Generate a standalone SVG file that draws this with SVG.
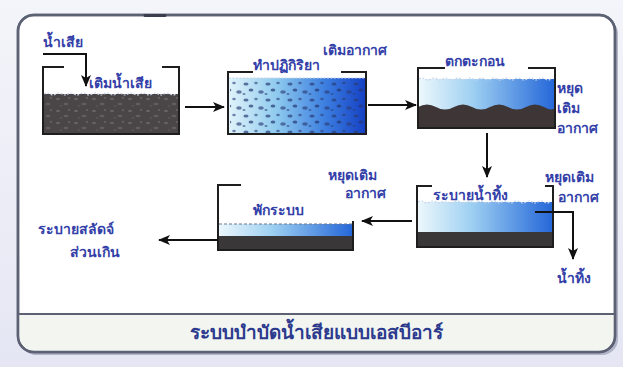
<svg xmlns="http://www.w3.org/2000/svg" width="623" height="367" viewBox="0 0 623 367">
  <defs>
    <style>
      .wall { fill: none; stroke: #1e1e1e; stroke-width: 2; stroke-linecap: square; }
      .conn { fill: none; stroke: #111; stroke-width: 2; }
      .lbl { font-family: "Noto Sans", "DejaVu Sans", sans-serif; font-size: 14px; font-weight: bold; fill: #3340a8; }
      .title { font-family: "Noto Sans", "DejaVu Sans", sans-serif; font-size: 19px; font-weight: bold; fill: #2c3a8e; }
      .surf { fill: none; stroke: #c8d4e8; stroke-width: 1.2; stroke-dasharray: 2 1.5; }
    </style>
    <linearGradient id="bgGrad" x1="0" y1="0" x2="0" y2="1">
      <stop offset="0" stop-color="#f4f5fa"/>
      <stop offset="1" stop-color="#e4e6f3"/>
    </linearGradient>
    <linearGradient id="waterA" x1="0" y1="0" x2="1" y2="0">
      <stop offset="0" stop-color="#e2f4fb"/>
      <stop offset="0.35" stop-color="#8fcaee"/>
      <stop offset="0.7" stop-color="#3d7fe0"/>
      <stop offset="1" stop-color="#1440c4"/>
    </linearGradient>
    <linearGradient id="waterB" x1="0" y1="0" x2="1" y2="0">
      <stop offset="0" stop-color="#eef8fc"/>
      <stop offset="0.4" stop-color="#9ed0f2"/>
      <stop offset="1" stop-color="#2466d8"/>
    </linearGradient>
    <pattern id="sludge" width="18" height="12" patternUnits="userSpaceOnUse">
      <rect width="18" height="12" fill="#4a4547"/>
      <ellipse cx="4" cy="3" rx="2" ry="1" fill="#6c6668"/>
      <ellipse cx="12" cy="8" rx="2.5" ry="1.2" fill="#625c5e"/>
      <ellipse cx="15" cy="2" rx="1.2" ry="0.8" fill="#716b6d"/>
      <ellipse cx="7" cy="10" rx="1.5" ry="0.8" fill="#5e585a"/>
    </pattern>
    <pattern id="bubbles" width="22" height="16" patternUnits="userSpaceOnUse">
      <ellipse cx="4" cy="4" rx="2.6" ry="1.6" fill="#2a3e78" fill-opacity="0.7"/>
      <ellipse cx="14" cy="3" rx="1.8" ry="1.2" fill="#2a3e78" fill-opacity="0.6"/>
      <ellipse cx="9" cy="10" rx="2.4" ry="1.5" fill="#233670" fill-opacity="0.7"/>
      <ellipse cx="19" cy="12" rx="2.8" ry="1.7" fill="#2a3e78" fill-opacity="0.65"/>
      <ellipse cx="2" cy="14" rx="1.5" ry="1" fill="#2a3e78" fill-opacity="0.6"/>
    </pattern>
    <marker id="arrow" markerWidth="12" markerHeight="10" refX="11" refY="5" orient="auto" markerUnits="userSpaceOnUse">
      <path d="M0,0 L12,5 L0,10 L3,5 Z" fill="#111"/>
    </marker>
  </defs>

  <!-- page background -->
  <rect width="623" height="367" fill="url(#bgGrad)"/>

  <!-- frame with shadow and caption strip -->
  <rect x="20" y="18" width="598" height="337" rx="16" fill="#8d92a8" opacity="0.6"/>
  <rect x="18" y="15" width="597" height="337" rx="16" fill="#ffffff" stroke="#5c6274" stroke-width="2.5"/>
  <path d="M19.3,314 H613.7 V336 A15,15 0 0 1 598.7,351 H34.3 A15,15 0 0 1 19.3,336 Z" fill="#f2f5f0"/>
  <line x1="19" y1="314" x2="614" y2="314" stroke="#5c6274" stroke-width="2"/>
  <rect x="18" y="15" width="597" height="337" rx="16" fill="none" stroke="#5c6274" stroke-width="2.5"/>
  <line x1="145" y1="15.5" x2="165" y2="15.5" stroke="#3a3e4c" stroke-width="3" stroke-linecap="round"/>
  <text class="title" x="316" y="339" text-anchor="middle">ระบบบำบัดน้ำเสียแบบเอสบีอาร์</text>

  <!-- stage 1: fill -->
  <g id="tank-fill">
    <rect x="43" y="94" width="136" height="40" fill="url(#sludge)"/>
    <path class="surf" d="M44,94 q3,-2 6,0 t6,0 t6,0 t6,0 t6,0 t6,0 t6,0 t6,0 t6,0 t6,0 t6,0 t6,0 t6,0 t6,0 t6,0 t6,0 t6,0 t6,0 t6,0 t6,0 t6,0 t6,0"/>
    <path class="wall" d="M63,67 H43 V134 H179 V67 H163"/>
    <text class="lbl" x="43" y="47">น้ำเสีย</text>
    <text class="lbl" x="89" y="88">เติมน้ำเสีย</text>
  </g>

  <!-- stage 2: react -->
  <g id="tank-react">
    <rect x="228" y="78" width="138" height="56" fill="url(#waterA)"/>
    <rect x="230" y="80" width="134" height="53" fill="url(#bubbles)"/>
    <path class="surf" d="M229,78 H365" stroke="#a8bcd8"/>
    <path class="wall" d="M252,72 H228 V134 H366 V72 H342"/>
    <text class="lbl" x="253" y="70">ทำปฏิกิริยา</text>
    <text class="lbl" x="323" y="55">เติมอากาศ</text>
  </g>

  <!-- stage 3: settle -->
  <g id="tank-settle">
    <rect x="418" y="79" width="137" height="32" fill="url(#waterB)"/>
    <path d="M418,107 q9,-5 18,0 t18,0 t18,0 t18,0 t18,0 t18,0 t18,0 t11,0 V128 H418 Z" fill="#3d3536"/>
    <path class="surf" d="M419,79 q3,-2 6,0 t6,0 t6,0 t6,0 t6,0 t6,0 t6,0 t6,0 t6,0 t6,0 t6,0 t6,0 t6,0 t6,0 t6,0 t6,0 t6,0 t6,0 t6,0 t6,0 t6,0 t6,0" stroke="#7d8aa8"/>
    <path class="wall" d="M444,68 H418 V128 H555 V68 H529"/>
    <text class="lbl" x="445" y="66">ตกตะกอน</text>
    <text class="lbl" x="557" y="93">หยุด</text>
    <text class="lbl" x="557" y="113">เติม</text>
    <text class="lbl" x="557" y="133">อากาศ</text>
  </g>

  <!-- stage 4: draw -->
  <g id="tank-draw">
    <rect x="417" y="202" width="136" height="30" fill="url(#waterB)"/>
    <rect x="417" y="232" width="136" height="15" fill="#3a3738"/>
    <path class="surf" d="M418,202 q3,-2 6,0 t6,0 t6,0 t6,0 t6,0 t6,0 t6,0 t6,0 t6,0 t6,0 t6,0 t6,0 t6,0 t6,0 t6,0 t6,0 t6,0 t6,0 t6,0 t6,0 t6,0 t6,0" stroke="#7d8aa8"/>
    <path class="wall" d="M431,186 H417 V247 H553 V186 H546"/>
    <text class="lbl" x="433" y="200">ระบายน้ำทิ้ง</text>
    <text class="lbl" x="545" y="182">หยุดเติม</text>
    <text class="lbl" x="558" y="202">อากาศ</text>
    <text class="lbl" x="557" y="283">น้ำทิ้ง</text>
  </g>

  <!-- stage 5: idle -->
  <g id="tank-idle">
    <rect x="218" y="224" width="135" height="12" fill="url(#waterB)"/>
    <rect x="218" y="236" width="135" height="14" fill="#3a3738"/>
    <line x1="219" y1="224" x2="352" y2="224" stroke="#6a7890" stroke-width="1" stroke-dasharray="3 2"/>
    <path class="wall" d="M240,185 H218 V250 H353 V222"/>
    <text class="lbl" x="253" y="215">พักระบบ</text>
    <text class="lbl" x="328" y="180">หยุดเติม</text>
    <text class="lbl" x="345" y="198">อากาศ</text>
    <text class="lbl" x="38" y="234">ระบายสลัดจ์</text>
    <text class="lbl" x="70" y="257">ส่วนเกิน</text>
  </g>

  <!-- connectors -->
  <g id="connectors">
    <path class="conn" d="M43,54 H86 V86" marker-end="url(#arrow)"/>
    <path class="conn" d="M185,107 H224" marker-end="url(#arrow)"/>
    <path class="conn" d="M368,105 H416" marker-end="url(#arrow)"/>
    <path class="conn" d="M487,133 V177" marker-end="url(#arrow)"/>
    <path class="conn" d="M412,221 H362" marker-end="url(#arrow)"/>
    <path class="conn" d="M218,240 H159" marker-end="url(#arrow)"/>
    <path class="conn" d="M535,212 H573 V259" marker-end="url(#arrow)"/>
  </g>
</svg>
